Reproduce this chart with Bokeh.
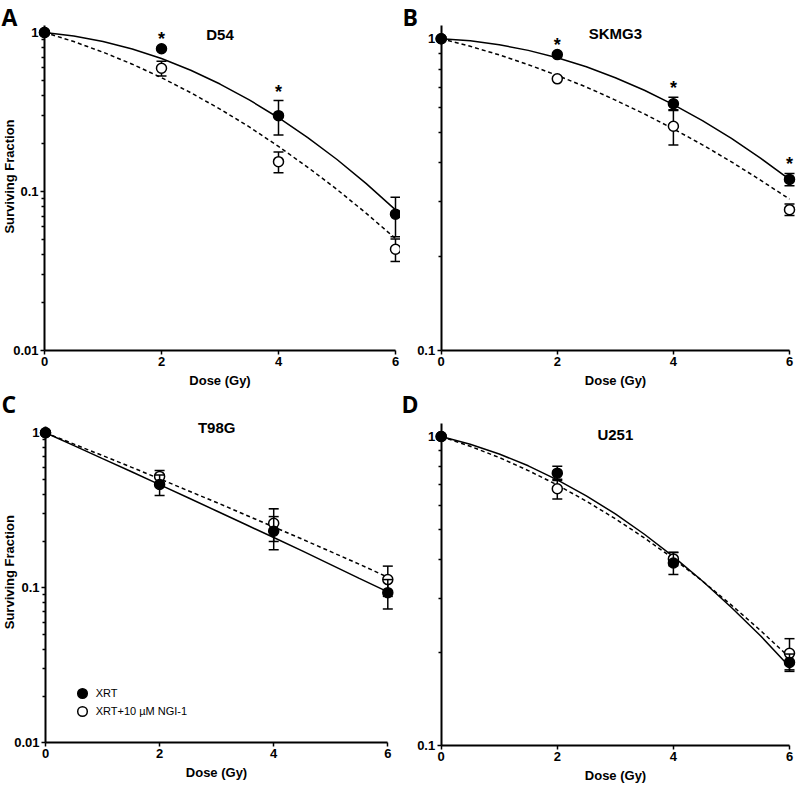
import math
from bokeh.plotting import figure
from bokeh.models import (FixedTicker, CustomJSTickFormatter, Label, Legend,
                          LegendItem, Range1d)
from bokeh.layouts import row, column
from bokeh.core.properties import value
from bokeh.embed import file_html
from bokeh.resources import INLINE

# ---------------- data ----------------
dose = [0, 2, 4, 6]
fit_dose = [0, 0.5, 1, 1.5, 2, 2.5, 3, 3.5, 4, 4.5, 5, 5.5, 6]
x_ticks = [0, 2, 4, 6]

d54_xrt = [1.0, 0.79, 0.30, 0.072]
d54_xrt_sem = [0.0, 0.0, 0.073, 0.020]
d54_ngi = [1.0, 0.596, 0.154, 0.0433]
d54_ngi_sem = [0.0, 0.063, 0.023, 0.007]
d54_xrt_fit = [1.000, 0.952, 0.879, 0.788, 0.686, 0.579, 0.474, 0.377, 0.291, 0.218, 0.159, 0.112, 0.0766]
d54_ngi_fit = [1.000, 0.877, 0.752, 0.632, 0.520, 0.418, 0.330, 0.255, 0.192, 0.142, 0.103, 0.0729, 0.0506]
d54_sig = [2, 4]

skmg3_xrt = [1.0, 0.89, 0.619, 0.354]
skmg3_xrt_sem = [0.0, 0.0, 0.030, 0.016]
skmg3_ngi = [1.0, 0.744, 0.524, 0.283]
skmg3_ngi_sem = [0.0, 0.0, 0.068, 0.012]
skmg3_xrt_fit = [1.000, 0.985, 0.957, 0.918, 0.869, 0.813, 0.750, 0.684, 0.615, 0.546, 0.479, 0.414, 0.354]
skmg3_ngi_fit = [1.000, 0.946, 0.888, 0.826, 0.763, 0.700, 0.636, 0.574, 0.514, 0.457, 0.403, 0.352, 0.306]
skmg3_sig = [2, 4, 6]

t98g_xrt = [1.0, 0.464, 0.232, 0.093]
t98g_xrt_sem = [0.0, 0.070, 0.056, 0.020]
t98g_ngi = [1.0, 0.523, 0.261, 0.113]
t98g_ngi_sem = [0.0, 0.048, 0.062, 0.025]
t98g_xrt_fit = [1.000, 0.827, 0.682, 0.563, 0.463, 0.381, 0.313, 0.257, 0.211, 0.173, 0.141, 0.115, 0.0942]
t98g_ngi_fit = [1.000, 0.845, 0.713, 0.601, 0.505, 0.423, 0.355, 0.296, 0.247, 0.206, 0.171, 0.142, 0.117]
t98g_sig = []

u251_xrt = [1.0, 0.761, 0.390, 0.186]
u251_xrt_sem = [0.0, 0.040, 0.032, 0.012]
u251_ngi = [1.0, 0.678, 0.402, 0.199]
u251_ngi_sem = [0.0, 0.050, 0.020, 0.023]
u251_xrt_fit = [1.000, 0.944, 0.878, 0.804, 0.724, 0.643, 0.562, 0.483, 0.409, 0.341, 0.280, 0.227, 0.180]
u251_ngi_fit = [1.000, 0.930, 0.855, 0.776, 0.697, 0.618, 0.542, 0.470, 0.403, 0.341, 0.285, 0.236, 0.193]
u251_sig = []

y_ticks_3dec = [0.01, 0.1, 1]
y_minor_3dec = [0.02, 0.03, 0.04, 0.05, 0.06, 0.07, 0.08, 0.09,
                0.2, 0.3, 0.4, 0.5, 0.6, 0.7, 0.8, 0.9]
y_ticks_1dec = [0.1, 1]
y_minor_1dec = [0.2, 0.3, 0.4, 0.5, 0.6, 0.7, 0.8, 0.9]

legend_labels = ["XRT", "XRT+10 \u00b5M NGI-1"]

FONT = "Liberation Sans"


def draw_series(p, y, sem, filled):
    xs = [d for d, e in zip(dose, sem) if e > 0]
    lo = [v - e for v, e in zip(y, sem) if e > 0]
    hi = [v + e for v, e in zip(y, sem) if e > 0]
    p.segment(x0=xs, y0=lo, x1=xs, y1=hi, line_color="black", line_width=1.5)
    p.scatter(xs + xs, lo + hi, marker="dash", size=10, line_color="black", line_width=1.5)
    r = p.scatter(dose, y, marker="circle", size=10,
                  fill_color="black" if filled else "white",
                  line_color="black", line_width=1.5)
    return r


def make_panel(name, letter, box, xpx, ypx, yticks, yminor,
               xrt, xrt_sem, ngi, ngi_sem, xrt_fit, ngi_fit, sig,
               ylabel_cy, title_py, letter_pos, legend=None):
    left, top, right, bottom = box
    W, H = right - left, bottom - top
    px0, px6 = xpx
    u = (px6 - px0) / 6.0
    xs = -(px0 - left) / u
    xe = 6 + (right - px6) / u
    (py_hi, v_hi), (py_lo, v_lo) = ypx
    d = (py_lo - py_hi) / (math.log10(v_hi) - math.log10(v_lo))
    ye = v_hi * 10 ** ((py_hi - top) / d)
    ys = v_lo * 10 ** (-(bottom - py_lo) / d)

    p = figure(width=W, height=H, x_range=Range1d(xs, xe), y_range=Range1d(ys, ye),
               y_axis_type="log", output_backend="svg", toolbar_location=None,
               min_border=0, outline_line_color=None)
    p.grid.visible = False

    xa = p.xaxis[0]
    xa.fixed_location = v_lo
    xa.bounds = (0, 6)
    xa.ticker = FixedTicker(ticks=x_ticks, minor_ticks=[])
    xa.axis_label = "Dose (Gy)"
    ya = p.yaxis[0]
    ya.fixed_location = 0
    ya.bounds = (v_lo, 1.1)
    ya.ticker = FixedTicker(ticks=yticks, minor_ticks=yminor)
    ya.formatter = CustomJSTickFormatter(code="return tick.toString();")
    for ax in (xa, ya):
        ax.axis_line_width = 2
        ax.axis_line_color = "black"
        ax.major_tick_line_width = 1.5
        ax.minor_tick_line_width = 1.5
        ax.major_tick_out = 4
        ax.major_tick_in = 0
        ax.minor_tick_out = 3
        ax.minor_tick_in = 0
        ax.major_label_standoff = 2
        ax.axis_label_standoff = 4
        ax.major_label_text_font = FONT
        ax.major_label_text_font_style = "bold"
        ax.major_label_text_font_size = "13px"
        ax.major_label_text_color = "black"
        ax.axis_label_text_font = FONT
        ax.axis_label_text_font_style = "bold"
        ax.axis_label_text_font_size = "13px"
        ax.axis_label_text_color = "black"
        ax.level = "underlay"
    xa.minor_tick_out = 0

    if ylabel_cy is not None:
        p.add_layout(Label(x=9, y=bottom - ylabel_cy, x_units="screen", y_units="screen",
                           text="Surviving Fraction", angle=math.pi / 2,
                           text_align="center", text_baseline="middle",
                           text_font=FONT, text_font_style="bold", text_font_size="13px",
                           text_color="black"))

    # fitted curves
    p.line(fit_dose, xrt_fit, line_color="black", line_width=1.5)
    p.line(fit_dose, ngi_fit, line_color="black", line_width=1.5, line_dash="4 3")

    r_ngi = draw_series(p, ngi, ngi_sem, False)
    r_xrt = draw_series(p, xrt, xrt_sem, True)

    # significance asterisks, placed just above each XRT point's error bar
    if sig:
        sy, offs = [], []
        for s in sig:
            i = dose.index(s)
            v, e = xrt[i], xrt_sem[i]
            err_px = d * math.log10((v + e) / v)
            above = max(err_px + 12.0, 13.0)
            sy.append(v)
            offs.append(-(above - 3.0))
        p.text(x=sig, y=sy, text=["*"] * len(sig), text_align="center",
               text_baseline="alphabetic", y_offset=offs,
               text_font=value(FONT), text_font_style="bold", text_font_size="18px",
               text_color="black")

    p.add_layout(Label(x=3, y=bottom - title_py, x_units="data", y_units="screen",
                       text=name, text_align="center", text_baseline="middle",
                       text_font=FONT, text_font_style="bold", text_font_size="15px",
                       text_color="black"))
    lx, lc = letter_pos
    p.add_layout(Label(x=lx - left, y=bottom - lc, x_units="screen", y_units="screen",
                       text=letter, text_align="left", text_baseline="middle",
                       text_font="Open Sans", text_font_style="bold", text_font_size="23px",
                       text_color="black"))

    if legend:
        for (gx, gy), lab, rr in zip(legend, legend_labels, [r_xrt, r_ngi]):
            lg = Legend(items=[LegendItem(label=lab, renderers=[rr])],
                        location=(gx - 12 - left, bottom - (gy + 12)),
                        glyph_width=24, glyph_height=24, label_height=24,
                        label_standoff=2, padding=0, margin=0, spacing=0,
                        border_line_color=None, background_fill_alpha=0,
                        label_text_font=FONT, label_text_font_size="11px",
                        label_text_color="black")
            p.add_layout(lg)
    return p


pA = make_panel("D54", "A", (0, 0, 400, 388), (44, 395), ((32, 1.0), (350, 0.01)),
                y_ticks_3dec, y_minor_3dec, d54_xrt, d54_xrt_sem, d54_ngi, d54_ngi_sem,
                d54_xrt_fit, d54_ngi_fit, d54_sig, 176, 33.7, (1, 16.5))
pB = make_panel("SKMG3", "B", (400, 0, 800, 388), (440.7, 789), ((38.3, 1.0), (350, 0.1)),
                y_ticks_1dec, y_minor_1dec, skmg3_xrt, skmg3_xrt_sem, skmg3_ngi, skmg3_ngi_sem,
                skmg3_xrt_fit, skmg3_ngi_fit, skmg3_sig, None, 33, (402, 16.5))
pC = make_panel("T98G", "C", (0, 388, 400, 787), (45, 387.3), ((432.3, 1.0), (742.3, 0.01)),
                y_ticks_3dec, y_minor_3dec, t98g_xrt, t98g_xrt_sem, t98g_ngi, t98g_ngi_sem,
                t98g_xrt_fit, t98g_ngi_fit, t98g_sig, 571.7, 426.7, (1, 403),
                legend=[(81.7, 692.7), (81.7, 710.7)])
pD = make_panel("U251", "D", (400, 388, 800, 787), (440.7, 789), ((436, 1.0), (745.3, 0.1)),
                y_ticks_1dec, y_minor_1dec, u251_xrt, u251_xrt_sem, u251_ngi, u251_ngi_sem,
                u251_xrt_fit, u251_ngi_fit, u251_sig, None, 434, (401, 403))

layout = column(row(pA, pB), row(pC, pD))
open("out.html", "w").write(file_html(layout, INLINE))
